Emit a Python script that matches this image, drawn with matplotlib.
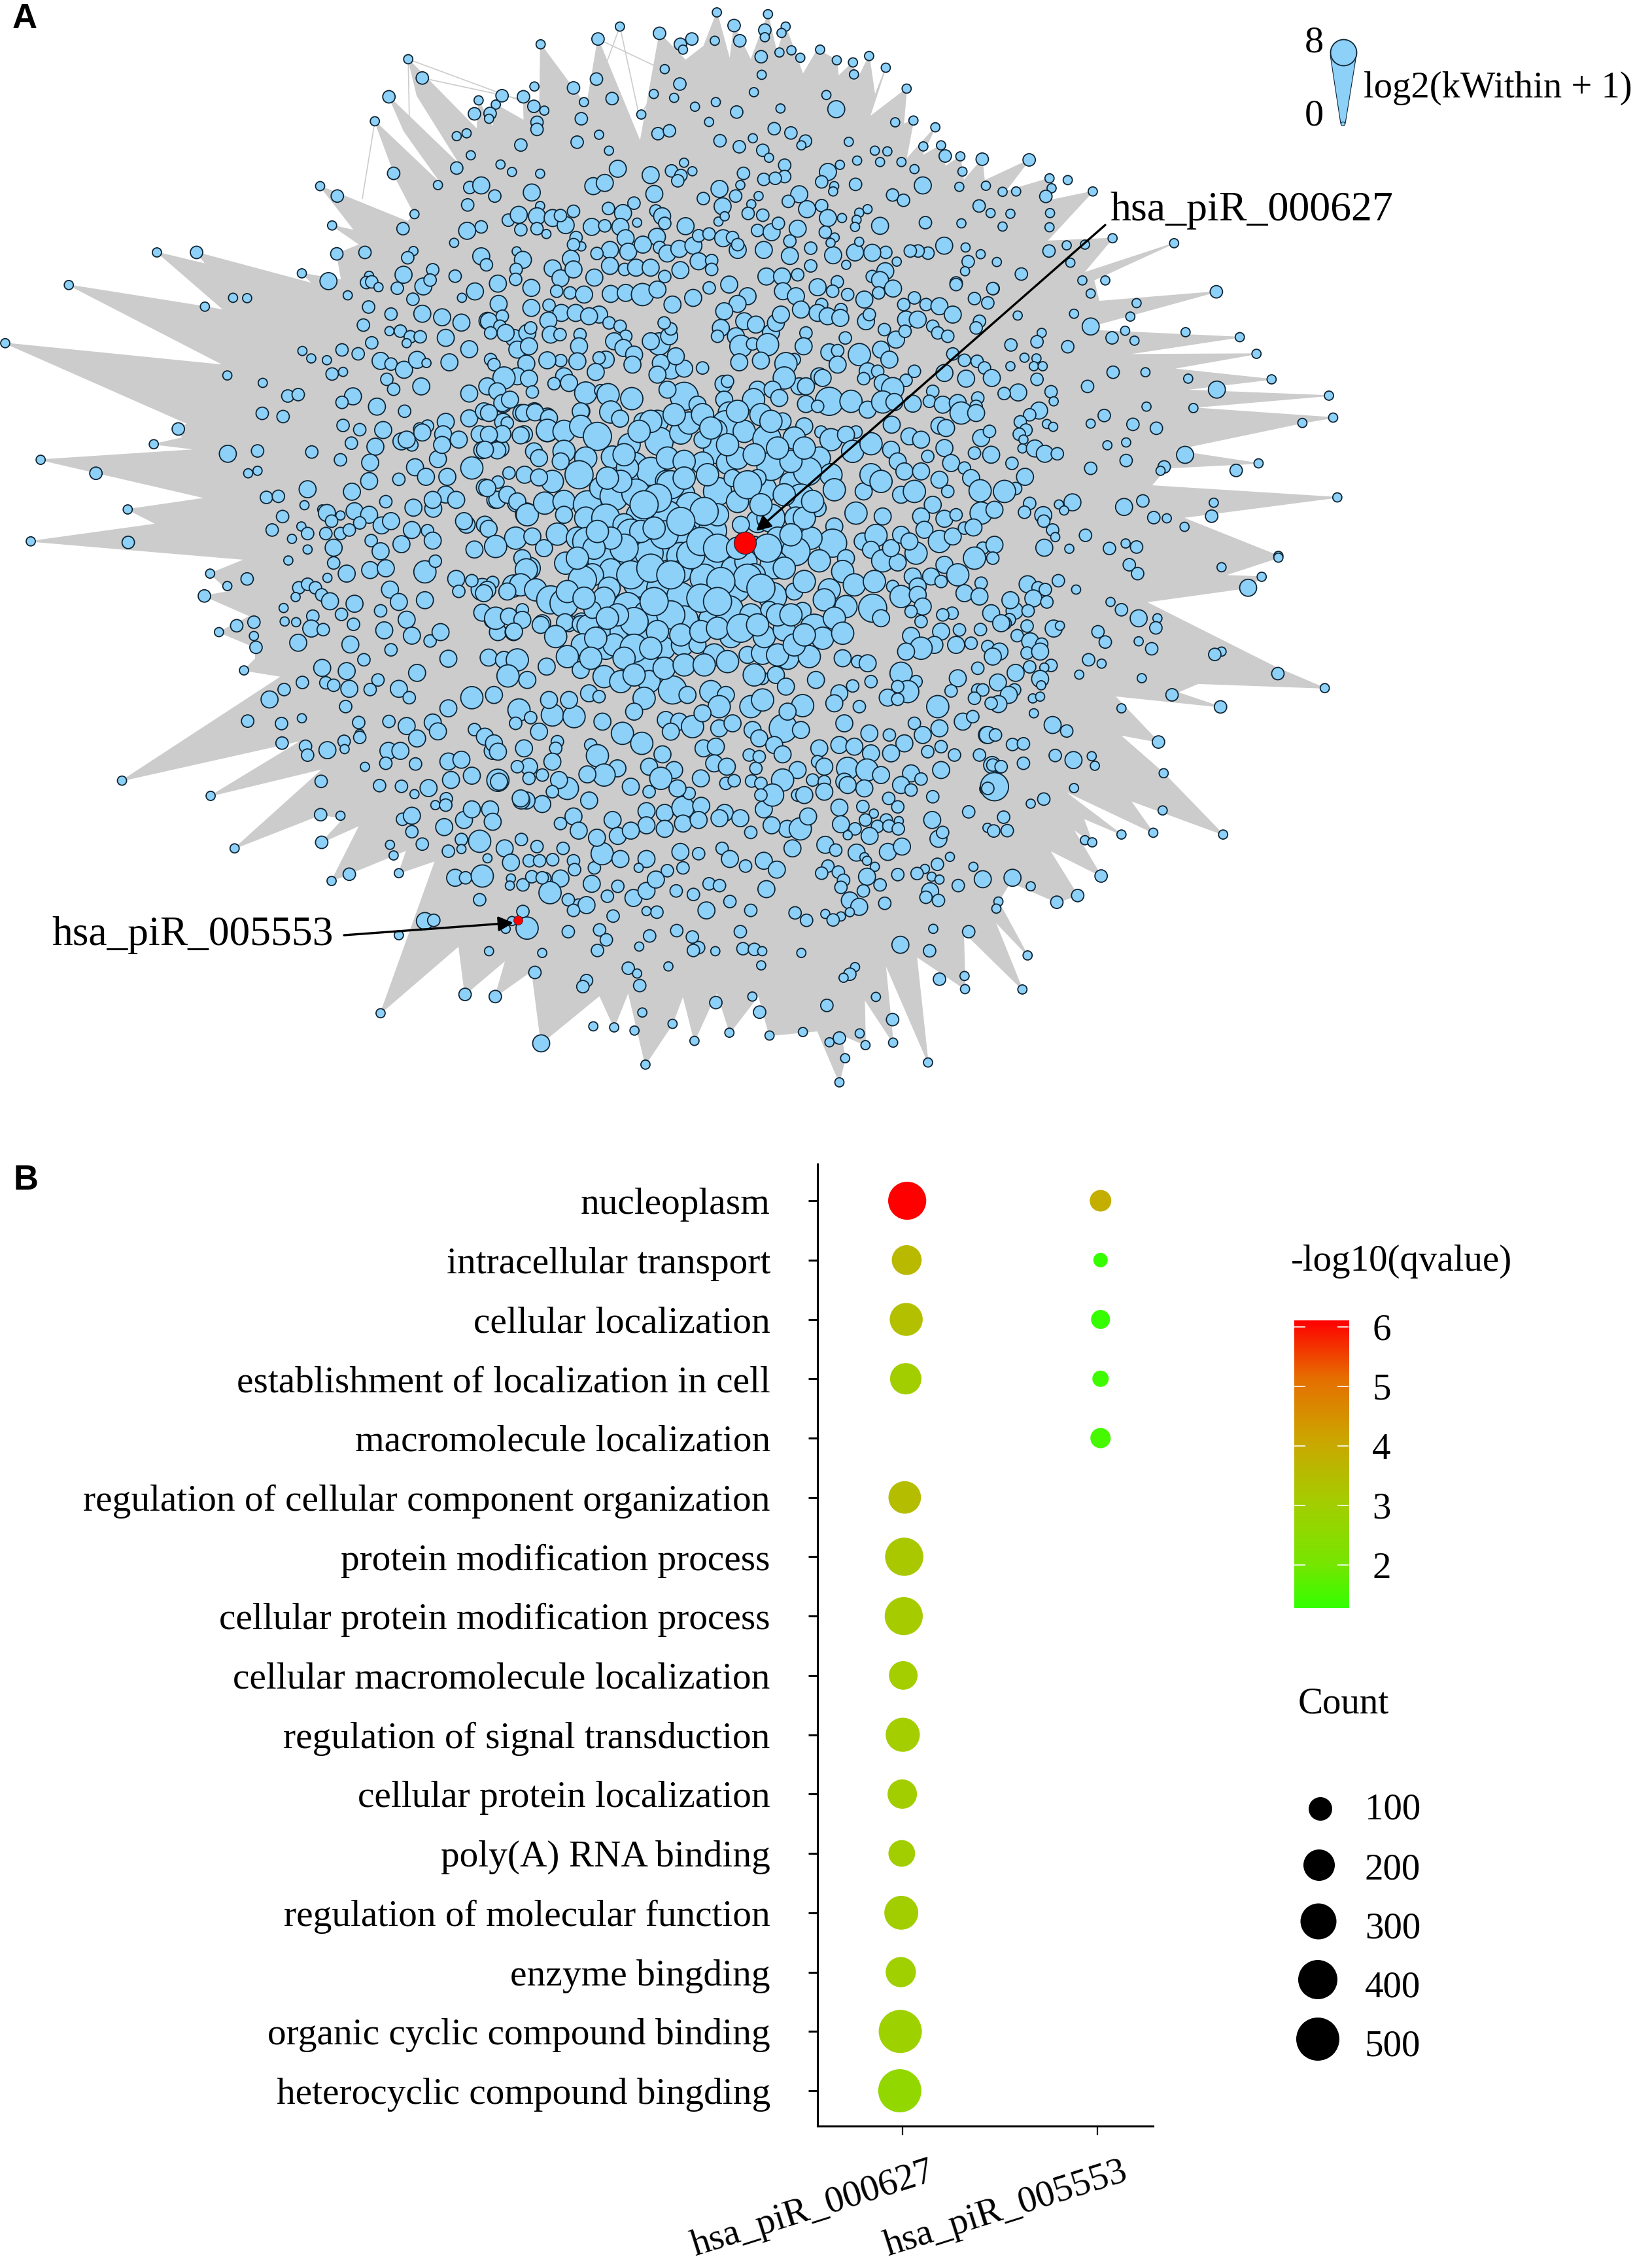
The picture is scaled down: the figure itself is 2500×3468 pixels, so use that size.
import numpy as np
import matplotlib
matplotlib.use("Agg")
import matplotlib.pyplot as plt
from matplotlib.colors import LinearSegmentedColormap
from matplotlib.patches import Polygon

serif = "Liberation Serif"
blue = "#8DD0F8"
grey = "#CCCCCC"
edge = "#0E2433"

# node radius classes, in picture pixels
T, S, M, L, X = 7, 9.5, 13, 17, 21.5

hull_tl = [(59,1527),(300,1478),(245,1437),(395,1405),(78,1297),(380,1268),(295,1253),(350,1235),(342,1210),(360,1195),
           (10,968),(430,1030),(132,804),(393,865),(430,875),(302,712),(395,745),(377,712),(600,800),
           (579,771),(655,790),(646,716),(690,690),(637,636),(680,650),(614,525),(790,630),(773,640),(795,604),(760,505),
           (719,342),(850,525),(775,370),(746,273),(885,470),(800,270),(783,167),(915,365),(918,283),(945,360),(951,295),
           (1005,340),(1004,273),(1035,300),(1037,125),(1125,300),(1147,110),(1228,400),(1240,300),(1265,94),(1315,170),
           (1350,130),(1375,35),(1400,170),(1408,72),(1440,170),(1473,40),(1490,150),(1507,75),(1540,210),(1568,140)]
hull_tr = [(0,140),(37,170),(40,215),(68,176),(75,230),(99,158),(110,270),(131,191),(100,330),(171,250),(165,350),(184,340),
           (170,450),(226,359),(200,440),(237,410),(245,470),(274,441),(280,510),(316,449),(320,510),(406,451),(360,540),
           (445,503),(430,570),(528,540),(440,680),(566,672),(510,770),(684,686),(530,790),(540,850),(765,823),(500,930),
           (810,951),(590,1000),(842,998),(680,1040),(871,1070),(700,1100),(981,1116),(715,1150),(989,1178),(930,1193),
           (680,1270),(846,1307),(670,1320),(640,1370),(997,1403),(700,1460),(884,1568)]
hull_br = [(884,5),(780,55),(852,59),(826,90),(630,130),(880,315),(973,373),(730,360),(690,385),(773,426),(570,395),(654,525),
           (580,505),(664,613),(778,786),(600,690),(644,781),(470,660),(583,786),(510,740),(527,808),(490,770),(544,903),
           (445,830),(499,958),(459,977),(370,920),(347,975),(403,1127),(340,1030),(393,1223),(280,1060),(283,1222),(190,1130),
           (212,1429),(130,1150),(145,1373),(90,1250),(92,1380),(45,1350),(53,1417),(42,1485),(0,1340)]
hull_bl = [(1568,1340),(1476,1353),(1455,1240),(1400,1345),(1375,1230),(1332,1368),(1310,1240),(1290,1320),(1238,1435),
           (1205,1230),(1178,1330),(1150,1240),(1038,1375),(1020,1170),(950,1243),(970,1140),(892,1237),(880,1100),(730,1290),
           (835,860),(765,895),(780,830),(636,917),(690,760),(617,808),(660,740),(615,730),(450,825),(620,600),(404,677),
           (580,520),(234,634),(540,340),(468,323),(490,290),(490,258),(420,215),(480,170),(392,113),(440,100),(403,50),(470,10)]
thin_tl = [((1189,75),(1225,320)),((1189,75),(1150,230)),((783,167),(785,330)),((719,342),(695,560)),((783,167),(1000,285)),
           ((810,220),(1000,280)),((1147,110),(1255,185)),((1230,320),(1310,140))]

# ---- panel A: nodes (x, y, radius class), one list per part of the picture
nodes_center = [(44,68,M),(142,20,M),(218,30,S),(258,35,S),(300,40,M),(380,38,M),(425,35,M),(475,40,L),(520,25,M),(565,70,M),(627,50,M),(675,20,S),(735,10,M),(790,45,M),(760,68,M),(720,90,M),(896,30,M),(935,45,M),(1000,18,M),(1045,30,S),(1012,70,S),(1070,85,S),(1090,40,S),(1140,55,M),(1183,35,S),(1226,22,M),(1290,50,S),(1258,70,S),(1325,70,S),(1365,75,M),(1415,10,S),(1470,52,S),(1525,22,S),(1510,65,S),(1405,100,M),
(142,80,M),(195,72,S),(232,95,M),(275,95,M),(345,100,M),(315,105,M),(15,120,M),(55,105,S),(48,135,S),(90,170,M),(130,155,M),(140,140,S),(20,155,S),(65,155,M),(193,118,M),(200,160,M),(228,160,S),(288,160,S),(285,195,M),(375,125,S),(408,135,S),(425,165,S),(390,180,M),(418,200,M),(450,220,M),(365,235,M),(345,230,S),(280,240,M),(230,238,S),(190,237,M),(100,205,M),(135,195,M),(20,235,S),(30,250,S),(127,247,M),(445,250,M),(525,188,L),(500,180,M),(555,165,M),(560,143,S),(540,125,S),
(710,140,M),(700,165,S),(780,120,M),(815,130,M),(860,155,M),(875,125,M),(755,165,M),(770,195,L),(805,188,S),(850,190,L),(965,155,S),(890,100,M),(950,85,M),(1000,95,M),(1030,105,M),(1068,110,M),(1083,170,S),(1145,120,M),(1155,100,S),(1200,145,S),(1235,175,M),(1190,205,M),(1215,235,M),(1265,115,M),(1300,115,M),(1262,150,S),(1345,135,S),(1360,155,S),(1390,165,S),(1485,120,S),(1475,140,S),(1125,220,L),(958,195,M),(930,235,S),(1035,213,M),(1060,208,S),(1060,250,M),
(765,243,M),(830,238,M),(905,247,L),(655,260,S),(560,260,L),(530,245,M),(600,262,M),(575,225,M),(520,280,M),(100,285,M),(60,290,L),(135,292,M),(240,285,M),(210,307,S),(255,305,M),(335,272,M),(10,315,M),(40,330,M),(145,332,S),(305,335,L),(350,328,S),(372,340,L),(443,352,L),(55,365,M),(78,355,M),(0,390,M),
(1150,270,M),(1180,270,S),(1138,292,S),(1265,297,S),(1290,270,S),(1380,275,M),(1405,218,S),(1440,237,S),(1478,240,S),(1500,260,S),(1522,290,M),(1445,292,M),(1195,305,M),(1225,322,L),(1345,330,S),(1335,360,S),(1375,370,M),(1420,365,M),(1480,350,S),(1430,395,L),(1475,375,S),(1475,395,M),(1005,285,M),(945,315,M),(965,315,M),(900,290,L),(1015,290,M),
(718,308,M),(730,300,S),(820,325,M),(865,325,M),(808,355,L),(885,350,M),(1035,360,X),(965,368,M),(1000,375,S),(1100,360,L),(1150,385,M),(1195,362,L),(1285,367,M),(1230,362,M),(600,345,X),(550,325,M),(640,370,M),(720,355,M),(735,395,L),
(15,395,M),(70,425,S),(120,395,M),(153,393,M),(290,390,M),(380,392,L),(408,412,M),(195,410,M),(190,447,L),(240,450,L),(290,435,L),(340,465,X),(110,462,M),(55,458,M),(15,460,M),(40,507,M),(3,505,M),(150,510,M),(165,530,M),(240,510,L),(230,540,M),(305,530,L),
(475,420,M),(520,420,L),(525,480,X),(435,490,L),(590,455,L),(615,425,L),(655,400,L),(725,430,X),(695,448,L),(780,450,L),(700,505,X),(655,475,M),(655,545,L),(730,545,L),(848,473,X),(895,420,M),(960,435,M),(1010,452,S),(1040,475,L),(1115,452,S),(1085,460,M),(1105,510,L),(1160,487,L),(1222,430,M),(1220,505,M),(1275,465,M),(1310,475,M),(1365,433,M),(1385,440,M),(1380,500,M),(1240,540,M),(1490,470,M),(1515,450,S),(1470,515,S),(1520,520,M),(1330,525,S),(1400,545,M),(1440,560,S),
(385,527,L),(450,555,X),(500,570,X),(547,600,L),(285,580,X),(205,600,L),(122,580,M),(75,575,S),(165,588,M),(42,602,S),(40,655,M),(70,640,M),(10,620,M),(100,660,M),(130,700,L),(182,665,L),(240,660,L),(310,670,X),(350,620,L),(390,645,X),(455,635,X),(590,640,X),(618,675,X),(700,630,X),(835,625,X),(920,605,L),(860,555,X),(1005,530,L),(1040,580,L),(970,570,X),(1050,625,L),(950,650,X),
(820,590,M),(745,590,M),(1138,630,M),(1115,695,L),(1195,705,M),(1160,580,L),(1190,600,L),(1260,570,M),(1310,570,M),(1365,595,M),(1390,630,S),(1250,640,M),(1290,630,L),(1345,670,M),(1310,705,M),(1460,590,M),(1487,628,L),(1560,630,L),(1490,695,L),(1530,685,M),(1380,712,M),(1415,700,S),
(240,700,M),(305,710,L),(365,710,X),(460,700,L),(420,730,L),(550,700,X),(640,730,X),(685,748,X),(600,760,X),(820,720,L),(860,710,X),(935,710,L),(1000,680,M),(1050,735,M),(1045,785,X),(980,770,L),(14,742,M),(95,770,L),(35,795,L),(145,765,M),(220,758,L),(280,770,L),(308,780,X),(440,755,X),(535,805,L),
(770,730,M),(880,770,L),(810,790,M),(935,810,X),(1005,838,L),(1085,830,M),(1135,780,M),(1175,762,L),(1160,805,M),(1195,838,L),(1240,843,M),(1220,800,M),(1250,760,M),(1295,815,L),(1275,780,M),(1320,745,M),(1365,780,L),(1405,765,M),(1440,740,S),(1467,738,M),(1380,850,M),(1495,800,S),(1530,790,M),(1470,830,L),(1525,830,S),
(180,800,M),(115,830,M),(245,845,L),(127,865,L),(350,825,X),(440,840,X),(495,815,X),(590,825,X),(680,840,X),(745,860,L),(785,840,L),(870,850,X),(380,865,L),(325,880,L),(295,895,X),(590,870,L),
(110,910,L),(155,925,L),(10,925,M),(70,930,M),(375,920,L),(200,955,X),(240,965,X),(360,950,L),(460,905,X),(530,920,X),(590,945,X),(660,890,X),(755,920,X),(865,945,X),(930,930,M),(810,880,L),(1075,870,L),(1110,910,L),(1035,925,L),(1020,955,L),(1170,900,L),(1225,915,S),(1250,945,L),(1165,980,X),(1085,975,L),(1190,1010,M),(1285,885,M),(1340,885,M),(1420,880,L),(1300,915,M),(1370,900,S),(1440,935,M),(1490,905,S),(1485,945,M),(1300,940,M),(1315,975,M),(1280,990,S),
(0,935,M),(35,1010,L),(115,985,S),(75,1005,M),(115,1015,M),(170,1030,M),(90,1050,M),(243,1022,M),(290,1028,M),(312,1033,L),(215,1065,L),(295,1090,L),(365,1060,L),(325,985,M),(430,975,X),(490,1000,X),(420,1050,X),(470,1070,X),(600,1015,X),(670,1010,M),(735,985,X),(800,1000,L),(855,985,M),(955,988,M),(990,1040,X),(1050,1010,L),(1015,1070,L),(1075,1055,L),
(1520,995,M),(1403,995,S),(1375,1000,S),(1310,1020,S),(1280,1063,M),(1488,1044,S),(1550,1025,M),(1370,1050,M),(1425,1045,S),(1415,1090,M),(1350,1090,M),(1460,1085,S),(1510,1095,S),(1545,1110,M),(1310,1100,L),(1265,1110,M),(1525,1125,M),
(14,1128,M),(60,1135,M),(100,1135,L),(365,1100,L),(250,1125,L),(290,1165,M),(188,1155,M),(130,1195,M),(72,1183,L),(360,1185,L),(480,1142,X),(540,1100,L),(595,1090,L),(640,1090,M),(690,1120,L),(790,1120,M),(835,1115,L),(840,1065,L),(900,1045,L),(910,1130,L),(740,1065,L),(975,1125,L),(1075,1130,M),(1120,1140,S),(1150,1145,M),
(495,1200,L),(565,1225,X),(610,1240,M),(680,1230,L),(725,1240,M),(835,1190,S),(875,1180,M),(905,1215,M),(995,1195,M),(1160,1200,S),(1105,1213,S),(1065,1235,M),(1250,1175,L),(1295,1200,S),(1420,1190,M),(1480,1160,S),(1270,1230,L),(1240,1215,S),(1210,1248,M),(1240,1253,S),(1400,1228,S),(1480,1225,S),(1495,1225,S),
(315,1235,M),(345,1245,S),(480,1250,L),(205,1300,L),(105,1285,L),(270,1305,L),(140,1308,S),(30,1240,M),(195,1255,M),(255,1255,M),(705,1275,L),(800,1275,L),(835,1255,L),(955,1272,L),(1125,1275,S),(1050,1265,M),(1360,1275,L),(1520,1265,S),(1470,1250,S),
(450,1290,M),(355,1320,M),(415,1355,L),(320,1390,S),(545,1315,M),(585,1320,M),(625,1335,L),(560,1350,M),(655,1295,M),(705,1340,M),(745,1325,M),(805,1345,M),(825,1370,M),(897,1340,X),(950,1345,M),(910,1290,M),(1080,1325,M),(1155,1355,M),(1215,1360,S),(1290,1325,S),(1315,1360,M),(1365,1340,M),(1435,1320,M),(1465,1305,S),(1510,1360,M),(1533,1360,S),(1260,1385,M),
(165,1350,M),(120,1400,M),(30,1385,M),(42,1410,M),(95,1325,S),(220,1380,S),(215,1400,S),(473,1385,L),(535,1418,M),(340,1422,L),(658,1400,M),(695,1395,M),(870,1390,M),(895,1418,M),(795,1420,S),(1005,1400,M),(1065,1390,M),(1110,1395,M),(1160,1415,M),(1220,1415,M),(1330,1410,S),(1370,1395,S),(1410,1420,S),(1485,1420,S),
(135,1455,M),(100,1455,S),(205,1440,M),(175,1480,S),(495,1455,M),(400,1460,M),(360,1480,L),(310,1478,M),(570,1465,M),(690,1445,M),(728,1455,M),(815,1460,S),(825,1425,S),(940,1465,M),(1000,1440,S),(1020,1455,M),(1090,1460,L),(1148,1465,L),(1080,1500,M),(1190,1480,M),(1280,1475,M),(1370,1465,M),(1525,1450,S),(1550,1455,S),
(45,1500,M),(135,1490,S),(250,1520,L),(225,1495,M),(440,1515,M),(530,1490,L),(650,1490,M),(725,1505,S),(750,1497,S),(802,1498,S),(830,1505,S),(895,1495,L),(985,1495,S),(1020,1500,S),(1140,1520,M),(1090,1510,M),(1250,1510,M),(1280,1525,S),(1310,1492,S),(1530,1515,X),(1510,1520,S),
(110,1550,M),(205,1530,S),(495,1530,S),(615,1535,S),(580,1520,M),(865,1540,L),(940,1540,S),(960,1540,M),(830,1540,S),(1020,1530,M),(1213,1550,S),(1345,1545,S),
# dense core
(430,560,L),(560,610,X),(520,650,X),(410,600,L),(480,670,X),(540,760,X),(470,750,L),(420,800,X),(380,770,L),(440,880,X),(500,860,X),(560,880,X),(620,820,X),(650,780,X),(700,700,L),(660,690,X),(590,720,X),(510,740,L),(760,660,L),(790,610,X),(830,670,L),(900,640,L),(960,710,L),(985,660,L),(920,760,L),(850,800,X),(790,890,X),(830,920,X),(710,900,X),(650,950,X),(700,960,X),(560,1000,X),(510,960,X),(450,1020,X),(400,1000,L),(390,1090,L),(450,1100,X),(520,1050,L),(590,1060,L),(650,1050,L),(700,1040,L),(770,1040,X),(820,1030,L),(880,1000,L),(920,1000,L),(960,900,L),(900,860,L),(700,800,X),(760,800,L),(500,1100,L),(420,1130,L),(540,1160,L),(600,1150,L),(660,1150,L),(730,1140,L),(810,1180,L),(880,1120,L),(930,1090,L),(960,1060,L),(330,800,L),(340,750,L),(280,830,L),(250,930,L),(300,950,L),(370,1010,L),(335,1070,L),(320,1130,L),(410,1200,L),(450,1180,L),(370,590,L),(420,520,L),(550,530,L),(600,540,L),(600,590,L),(670,580,L),(760,530,L),(810,520,L),(920,540,L),(730,490,L),(570,400,L),(500,420,L),(465,450,L),(680,440,L),(760,390,L),(830,400,L),(860,420,L),(930,470,L),(960,500,L),(880,500,L)]

nodes_tl = [(783,167,T),(810,220,S),(746,273,S),(719,342,T),(918,283,T),(951,295,T),(963,270,S),(910,321,S),(940,320,S),(938,335,T),(1004,273,S),(1025,244,T),(1037,125,T),(1147,110,S),(1189,75,T),(1100,248,S),(1144,223,S),(1120,288,T),(1174,278,S),(1265,94,S),(1275,195,T),(1305,125,S),(1310,140,T),(1327,110,S),(1375,35,T),(1408,72,S),(1371,115,T),(1419,115,S),(1473,40,T),(1507,75,T),(1467,85,S),(1467,105,T),(1499,93,T),(1495,148,T),(1518,142,T),(1535,163,T),(1460,160,S),(1461,211,T),(1446,260,T),(1497,306,T),(1304,237,S),(1254,265,T),(1293,276,T),(1333,301,T),(1373,288,T),(1413,316,S),(1230,323,T),(1024,300,S),(1044,312,T),(1030,345,S),(1030,365,S),(1115,335,S),(1149,380,T),(1107,401,S),(1262,377,S),(1284,369,S),(1360,344,T),(1381,397,S),(1444,390,T),(1418,414,S),(1485,363,S),(1517,375,S),(1545,398,S),(1537,410,T),(1463,424,S),(1475,445,T),(1168,425,T),(999,409,S),(876,384,T),(895,376,T),(903,438,T),(876,474,S),(960,464,T),(982,485,T),(1036,490,T),(1185,476,M),(1248,494,M),(1312,459,T),(1288,482,S),(1306,495,S),(1328,483,T),(1300,510,S),(1426,489,S),(1505,466,S),(1505,498,S),(1465,506,S),(1487,503,S),(755,489,S),(840,522,T),(614,525,T),(647,553,S),(901,529,S),(923,523,M),(949,553,S),(1138,525,M),(1160,516,M),(1020,543,M),(1255,547,M),(1380,533,M),(1420,522,T),(1455,553,T),(1533,548,M),(1512,568,S),(795,604,T),(637,636,T),(773,645,S),(897,578,S),(1036,581,T),(1100,596,S),(1167,588,S),(1216,573,S),(1195,601,M),(1349,560,S),(1386,582,M),(1411,553,S),(1441,576,T),(1548,590,M),(871,685,T),(700,712,S),(646,716,S),(793,708,T),(782,727,S),(923,640,S),(896,651,M),(975,621,S),(995,606,M),(1030,610,M),
(579,771,T),(630,793,M),(708,778,T),(703,797,S),(713,795,S),(726,810,T),(762,813,S),(774,775,M),(830,761,S),(812,808,M),(825,790,S),(873,779,S),(923,723,M),(933,747,S),(991,709,T),(1003,733,M),(955,800,M),(990,760,S),(989,788,S),(301,712,T),(377,712,S),(132,804,T),(393,865,T),(447,840,T),(474,841,T),(667,833,T),(792,844,S),(707,866,S),(750,886,S),(697,917,S),(886,840,T),(911,822,M),(810,885,M),(848,895,M),
(747,934,T),(768,934,S),(787,950,S),(806,950,S),(780,968,T),(713,967,S),(855,953,M),(900,985,M),(885,910,M),(935,905,M),(10,968,T),(580,990,T),(597,1011,T),(627,1016,T),(656,987,S),(687,998,S),(730,1018,M),(750,1027,S),(775,1043,M),(800,1015,M),(818,1024,T),(862,1022,M),(637,1055,S),(658,1049,T),(436,1059,T),(504,1080,T),(552,1117,S),(572,1113,S),(677,1118,M),(656,1135,S),(742,1070,S),(755,1098,S),(808,1090,M),(723,1147,M),(776,1160,S),(503,1166,S),(543,1175,S),(658,1200,S),(690,1212,S),(342,1210,S),(735,1213,M),(820,1202,S),(805,1210,S),(295,1253,T),(437,1280,M),(494,1272,S),(598,1275,S),(674,1250,S),(720,1260,M),(770,1245,M),(790,1255,S),(653,1297,S),(78,1297,T),(184,1335,S),(476,1335,T),(494,1328,T),(840,1295,M),(710,1305,M),(708,1357,M),(796,1318,M),(817,1345,M),(765,1352,S),(858,1345,M),(245,1437,T),(511,1403,S),(534,1400,S),(590,1380,M),(584,1425,T),(675,1387,M),(740,1415,S),(793,1432,M),(831,1435,M),(542,1457,S),(618,1437,T),(627,1447,M),(653,1454,T),(680,1442,M),(708,1452,M),(732,1482,M),(636,1470,S),(690,1475,S),(750,1470,M),(59,1527,T),(246,1530,S),(522,1495,S),(578,1485,T),(590,1505,S),(625,1505,S),(653,1505,S),(670,1495,S),(560,1520,T),(712,1525,S),(790,1495,M),(820,1497,S),(590,1550,T),(640,1545,M),(730,1555,M),(770,1535,M),(830,1525,M),(895,1480,M),(910,1550,M),
(999,648,S),(1030,645,S),(1048,660,T),(1060,615,M),(1085,635,M),(1105,670,S),(1075,608,S),(1135,640,M),(1160,637,S),(1190,640,M),(1222,628,T),(1258,595,S),(1270,610,M),(1275,630,S),(1315,638,M),(1260,668,M),(1200,672,M),(1170,705,M),(1145,715,S),(1115,695,T),(1100,690,S),(1205,710,M),(1233,690,M),(1265,698,S),(1280,715,M),(1303,702,M),(1330,693,M),(1340,665,S),(1360,660,S),(1387,672,M),(1405,670,S),(1415,705,M),(1415,690,S),(1378,625,T),(1390,610,T),(1435,602,S),(1463,607,S),(1453,650,S),(1480,655,M),(1493,630,S),(1530,645,M),(1465,705,M),(1515,680,S),(1515,722,M),(1555,700,S),(1095,730,M),(1060,757,M),(1075,785,M),(1100,760,M),(1170,750,M),(1140,783,M),(1198,760,S),(1220,755,M),(1248,755,M),(1275,780,S),(1305,762,M),(1340,737,M),(1365,735,S),(1365,760,S),(1470,780,M),(1500,780,M),(1555,750,S),(1530,775,S),
(905,1320,L),(930,1375,M),(950,1410,M),(990,1420,M),(1010,1450,L),(1040,1420,M),(930,1480,M),(890,1470,M),(855,1395,M),(875,1410,M),(830,1410,M),(900,1180,M),(925,1165,S),(965,1140,M),(965,1190,M),(1005,1225,M),(920,1225,M),(925,1270,M),(960,1265,M),(1000,1165,M),(1025,1160,M),(1050,1175,M),(1050,1215,L),(1085,1275,M),(1110,1335,L),(1120,1295,M),(1115,1160,M),(900,1110,M),(855,1190,M),(850,1225,M),(848,1255,M),(810,1220,M),(780,1240,M),(880,1240,M)]

nodes_tr = [(5,140,T),(37,170,T),(68,176,T),(99,158,T),(131,191,T),(70,210,T),(171,250,T),(17,268,T),(36,308,M),(149,345,T),(184,340,T),(226,359,T),(60,400,T),(203,413,T),(237,410,T),(110,425,T),(134,427,T),(245,440,S),(274,441,T),(316,449,S),(406,451,S),(120,457,T),(76,453,T),(43,465,T),(161,457,T),(186,477,T),(278,484,T),(20,485,M),(8,513,S),(32,525,T),(30,540,T),(73,520,S),(202,523,M),(144,550,S),(165,565,S),(272,527,T),(323,524,T),(355,541,T),(381,540,T),(445,503,T),(480,508,T),(449,531,T),(438,554,S),(528,540,T),(310,581,S),(332,601,T),(370,603,T),(446,601,T),(445,641,T),(355,639,T),(276,630,T),(207,628,S),(96,590,T),(80,600,T),(75,620,T),(72,640,T),(47,615,T),(120,637,M),(8,580,S),(20,615,M),(566,672,T),(513,690,T),(478,692,T),(684,686,T),(444,708,S),(485,741,T),(344,739,T),(313,717,T),(284,698,T),(289,738,S),(283,765,T),(243,693,M),(212,714,S),(193,708,S),(178,708,S),(152,738,T),(131,712,S),(105,713,M),(72,712,M),(80,682,T),(55,747,T),(30,720,M),(15,655,S),(33,670,T),(25,685,T),(130,765,M),(105,780,S),(120,790,M),(38,795,S),(391,773,S),(266,798,S),(337,814,S),(145,812,S),(508,791,T),(552,791,T),(524,828,T),
(765,823,S),(612,855,T),(492,885,T),(600,893,T),(384,890,T),(524,921,M),(430,939,T),(706,937,T),(590,933,T),(565,953,S),(608,961,T),(810,951,T),(421,964,S),(371,973,S),(480,978,S),(842,998,T),(397,1009,T),(420,1011,T),(415,1033,T),(432,1033,T),(370,1033,T),(567,1050,S),(629,1050,T),(711,1068,T),(871,1070,T),(421,1070,S),(518,1090,S),(766,1099,M),(448,1105,S),(385,1107,M),(358,1110,S),(453,1132,T),(981,1116,T),(631,1147,T),(721,1151,T),(425,1158,M),(407,1170,S),(389,1190,S),(550,1172,S),(440,1196,T),(452,1204,T),(605,1197,S),(650,1208,S),(524,1195,T),(930,1193,T),(989,1178,T),(400,1213,S),(387,1225,S),(395,1240,T),(592,1248,T),(556,1256,T),(393,1265,T),(417,1265,M),(436,1280,M),(460,1280,S),(705,1283,M),(846,1307,T),(592,1299,S),(524,1321,S),(665,1317,S),(658,1328,T),(803,1327,S),(373,1307,S),(398,1345,M),(380,1378,S),(358,1393,M),(407,1420,S),(397,1445,S),(489,1417,M),(463,1423,T),(473,1440,T),(997,1403,T),(760,1418,T),(624,1413,S),(588,1430,M),(756,1456,S),(645,1460,S),(670,1462,T),(433,1453,M),(434,1470,S),(451,1495,S),(456,1515,T),(704,1486,T),(514,1510,S),(560,1547,S),(591,1533,T),(612,1543,S),(483,1548,T),(435,1545,M),(884,1568,T)]

nodes_br = [(598,25,S),(614,50,S),(775,32,T),(884,5,T),(852,59,T),(826,90,M),(462,70,S),(403,80,M),(423,90,S),(437,95,S),(496,95,T),(414,120,M),(440,130,S),(562,130,T),(583,152,S),(616,176,M),(652,176,T),(649,203,S),(378,155,M),(404,155,S),(370,125,M),(368,180,S),(360,190,S),(402,198,S),(453,205,M),(465,197,T),(538,214,S),(383,225,S),(552,243,S),(616,241,T),(641,262,S),(408,241,M),(430,249,S),(775,270,T),(762,278,S),(402,274,S),(427,270,M),(520,293,S),(545,304,T),(883,332,S),(973,373,T),(407,313,S),(448,309,S),(435,315,T),(380,330,M),(502,335,T),(622,345,T),(427,347,M),(429,365,T),(346,357,M),(378,378,S),(367,392,M),(347,418,M),(680,392,S),(413,402,T),(427,397,T),(583,430,T),(773,426,S),(415,444,T),(451,477,M),(478,494,S),(654,525,S),(374,532,S),(395,530,S),(340,505,S),(325,505,M),(311,561,T),(456,563,S),(491,576,M),(526,565,T),(532,592,T),(395,585,S),(335,590,M),(350,595,S),(664,613,T),(340,652,L),(323,657,S),(492,655,T),(434,686,S),(409,699,T),(662,718,T),(290,722,S),(357,737,S),(326,767,T),(338,776,S),(364,775,S),(583,786,T),(644,781,T),(778,786,T),(513,802,T),(527,808,T),(544,903,S),(254,849,T),(230,870,S),(299,877,T),(232,798,M),(240,780,S),(206,883,T),(191,896,S),(219,905,T),(234,913,T),(154,899,S),(317,912,M),(374,908,M),(270,930,S),(409,932,T),(499,958,S),(459,977,S),(216,946,M),(208,963,S),(232,972,S),(347,975,T),(343,995,T),(129,980,S),(222,1052,T),(290,1060,S),(403,1127,T),(159,1097,M),(215,1114,S),(393,1223,T),(72,1160,T),(62,1180,S),(50,1190,T),(234,1194,S),(282,1185,T),(283,1222,T),(112,1244,T),(18,1268,S),(144,1308,S),(212,1429,T),(81,1347,T),(42,1360,S),(23,1372,T),(92,1380,T),(145,1373,T),(53,1417,T),(42,1485,T),
(15,815,M),(35,830,S),(75,837,M),(90,850,T),(95,860,T),(110,877,T),(135,835,M),(162,820,M),(20,875,S),(8,895,S),(40,892,S),(50,915,S),(95,905,M),(120,928,S),(45,935,S),(88,945,S),(62,972,M),(80,990,M),(15,1010,T),(62,1005,T),(45,1017,T),(30,1027,S),(42,710,M),(87,707,S),(154,708,S),(108,727,T),(92,745,S),(132,745,S),(156,748,T),(45,757,M),(72,770,S),(115,763,S),(58,788,T),(137,762,S),(155,770,S),(100,790,M),(220,745,M)]

nodes_bl = [(403,50,T),(474,65,S),(392,113,S),(436,85,T),(553,13,T),(573,90,S),(590,80,S),(640,20,S),(628,62,T),(665,50,M),(605,90,S),(617,110,S),(633,128,M),(680,135,M),(655,165,S),(544,147,T),(567,116,T),(600,170,S),(546,185,T),(568,187,T),(487,187,S),(454,197,S),(420,215,T),(597,205,M),(620,208,S),(678,193,S),(487,226,T),(491,258,S),(572,245,M),(672,250,M),(737,210,M),(750,265,S),(730,155,S),(780,180,M),(790,225,M),(825,240,S),(845,215,M),(468,323,T),(618,316,M),(665,325,M),(698,293,S),(725,350,S),(765,375,M),(580,357,S),(625,358,S),(640,365,S),(670,375,M),(710,377,S),(545,377,S),(517,405,M),(663,425,S),(785,400,S),(860,430,M),(800,330,M),(860,290,M),(905,400,L),(475,466,S),(540,473,S),(579,458,T),(688,470,S),(746,467,S),(780,480,M),(800,515,M),(830,470,M),(840,495,M),(910,490,S),(930,510,M),(945,550,M),(541,528,S),(586,537,S),(590,562,S),(628,548,M),(660,523,S),(661,545,T),(690,502,T),(690,512,S),(745,550,M),(740,585,S),(768,550,M),(797,587,S),(700,595,T),(860,580,M),(885,575,M),(905,620,M),(955,633,L),(234,634,T),(404,677,T),(616,636,S),(728,648,S),(770,650,S),(795,672,T),(822,655,M),(865,632,M),(856,685,S),(835,703,T),(855,703,S),(615,730,S),(653,733,T),(772,743,S),(790,733,M),(890,745,M),(940,715,M),(905,715,M),(945,750,M),(852,765,M),(790,778,S),(450,825,T),(617,808,S),(755,845,T),(748,815,T),(810,813,S),(885,800,S),(920,805,L),(860,833,S),(885,827,T),(935,853,T),(968,825,M),(980,865,M),(765,895,T),(670,898,S),(636,917,T),(873,908,M),(893,908,S),(925,903,L),(980,910,T),(978,930,T),(1003,928,S),(1020,905,S),(1045,910,S),(1075,910,M),(1055,950,L),(920,970,S),(1003,1003,S),(982,1030,T),(1011,1050,L),(815,1030,M),(832,1028,S),(765,1070,T),(970,1052,T),(938,1115,T),(1090,1060,S),(1150,1055,S),(1163,1083,S),(1176,1016,S),(1110,985,S),(1125,985,M),(1165,960,S),(1215,965,M),(1040,1120,T),(1146,1113,S),(1226,1102,T),(1246,1072,S),(1298,1057,S),(1328,1075,S),(1340,1105,S),(1330,1113,S),(1420,1060,S),(1425,1108,S),(1447,1110,S),(1462,1115,T),(1372,1115,T),(1026,1175,S),(1125,1198,S),(1118,1215,S),(1205,1163,S),(1222,1178,T),(1227,1212,S),(1282,1158,T),(892,1237,S),(950,1243,S),(730,1290,T),(1038,1375,M),(1138,1327,T),(1178,1330,T),(1217,1339,T),(1232,1288,T),(1238,1435,T),(1290,1320,T),(1332,1368,T),(1373,1260,S),(1399,1345,T),(1443,1243,T),(1457,1287,S),(1476,1353,T),(1460,1155,T),(1540,1343,T),(1537,1120,T),(1525,1007,S),(1547,1028,S),
(1000,800,S),(1030,820,S),(1015,860,S),(1035,860,S),(1060,857,S),(1080,825,S),(1100,860,S),(1102,885,S),(1140,880,S),(1155,840,L),(1190,855,M),(1240,855,M),(1225,880,T),(1280,888,S),(1305,835,M),(1340,840,S),(1310,880,S),(1385,825,S),(1400,855,M),(1430,875,S),(1465,860,M),(1490,885,M),(1520,825,M),(1040,908,S),(1135,925,M),(1185,932,S),(1240,945,M),(1258,913,M),(1297,945,S),(1330,955,S),(1360,925,S),(1380,930,S),(1400,975,S),(1470,940,M),(1440,1000,S),(1355,1000,M),(1260,1005,S),(1240,1002,T),(1090,970,S),(1100,1000,S),
(710,40,M),(740,35,M),(748,95,M),(765,130,M),(815,45,L),(815,125,M),(835,15,S),(875,65,M),(925,95,L),(880,100,S),(905,70,S),(945,75,S),(985,85,L),(1015,35,L),(1060,125,L),(1080,130,X),(1130,190,S),(1115,185,M),(1090,190,M),(1040,190,M),(1000,180,S),(945,180,M),(925,160,M),(955,215,M),(985,215,M),(1065,225,M),
(1040,700,M),(1010,690,M),(1100,735,M),(1130,690,M),(1175,745,M),(1240,720,M),(1240,760,M),(1275,725,M),(1310,710,L),(1345,705,M),(1390,725,M),(1420,740,M),(1465,715,M),(1510,770,M),(1535,770,L),(1075,755,S),(1110,775,M),(1145,795,M),(1185,790,M),(1210,775,M),(1275,770,M),(1310,755,M),(1340,745,M),(1380,740,M),(1440,780,S),(1480,760,M),(1550,735,M),(1000,690,M)]

# ---- panel B: dot plot
terms = ["nucleoplasm", "intracellular transport", "cellular localization",
         "establishment of localization in cell", "macromolecule localization",
         "regulation of cellular component organization", "protein modification process",
         "cellular protein modification process", "cellular macromolecule localization",
         "regulation of signal transduction", "cellular protein localization",
         "poly(A) RNA binding", "regulation of molecular function", "enzyme bingding",
         "organic cyclic compound binding", "heterocyclic compound bingding"]
piRNAs = ["hsa_piR_000627", "hsa_piR_005553"]
count_000627 = [365, 180, 235, 200, np.nan, 225, 370, 365, 165, 260, 175, 140, 255, 185, 500, 510]
qval_000627 = [6.1, 3.6, 3.4, 3.0, np.nan, 3.5, 3.2, 3.1, 3.05, 3.05, 3.0, 3.0, 3.0, 2.95, 2.9, 2.65]
count_005553 = [85, 30, 65, 45, 75] + [np.nan] * 11
qval_005553 = [3.9, 1.3, 1.3, 1.4, 1.5] + [np.nan] * 11

legend_counts = [100, 200, 300, 400, 500]
legend_diam = [36, 48, 55, 60, 66]
cbar_ticks = [2, 3, 4, 5, 6]

cmap = LinearSegmentedColormap.from_list("qv", [
    (0.00, "#33FF00"), (0.15, "#76E600"), (0.37, "#A5CD00"), (0.59, "#CDA500"),
    (0.80, "#E66E00"), (1.00, "#FF0000")])
vmin, vmax = 1.275, 6.11


def to_px(points, ox, oy, fx, fy):
    arr = np.array(points, dtype=float)
    arr[:, 0] = ox + arr[:, 0] / fx
    arr[:, 1] = oy + arr[:, 1] / fy
    return arr


# the zoomed crops were read at 1250x850 -> 1568x1568 and 800x800 -> 1568x1568
fx4, fy4 = 1568 / 1250, 1568 / 850
fc = 1568 / 800

fig = plt.figure(figsize=(25, 34.68), dpi=100)
ax = fig.add_axes([0, 0, 1, 1])
ax.set_xlim(0, 2500)
ax.set_ylim(3468, 0)
ax.axis("off")

hull = np.vstack([to_px(hull_tl, 0, 0, fx4, fy4), to_px(hull_tr, 1250, 0, fx4, fy4),
                  to_px(hull_br, 1250, 850, fx4, fy4), to_px(hull_bl, 0, 850, fx4, fy4)])
ax.add_patch(Polygon(hull, closed=True, fc=grey, ec=grey, lw=1, zorder=1))
for a, b in thin_tl:
    p = to_px([a, b], 0, 0, fx4, fy4)
    ax.plot(p[:, 0], p[:, 1], color=grey, lw=1.2, zorder=1)

nodes = np.vstack([to_px(nodes_tl, 0, 0, fx4, fy4), to_px(nodes_tr, 1250, 0, fx4, fy4),
                   to_px(nodes_br, 1250, 850, fx4, fy4), to_px(nodes_bl, 0, 850, fx4, fy4),
                   to_px(nodes_center, 740, 430, fc, fc)])
ax.scatter(nodes[:, 0], nodes[:, 1], s=(2 * nodes[:, 2] * 0.72) ** 2, c=blue, edgecolors=edge, linewidths=1.3, zorder=3)

# highlighted piRNAs
ax.scatter([1138.5], [830], s=(2 * 17 * 0.72) ** 2, c="#FF0000", edgecolors=edge, linewidths=0.8, zorder=4)
ax.scatter([792], [1407], s=(2 * 7 * 0.72) ** 2, c="#FF0000", edgecolors=edge, linewidths=0.5, zorder=4)
ax.annotate("", xy=(1156, 812), xytext=(1690, 344), zorder=5,
            arrowprops=dict(arrowstyle="-|>", color="black", lw=2.4, mutation_scale=34, shrinkA=0, shrinkB=0))
ax.annotate("", xy=(785, 1411), xytext=(526, 1430), zorder=5,
            arrowprops=dict(arrowstyle="-|>", color="black", lw=2.4, mutation_scale=34, shrinkA=0, shrinkB=0))
ax.text(1697, 322, piRNAs[0], family=serif, fontsize=46, va="center", ha="left")
ax.text(79, 1430, piRNAs[1], family=serif, fontsize=45.7, va="center", ha="left")

# size key of the network
ax.add_patch(Polygon([(2034, 84), (2074, 84), (2057, 189), (2050, 189)], closed=True, fc=blue, ec=edge, lw=0.8, zorder=3))
ax.scatter([2054], [80], s=(2 * 20 * 0.72) ** 2, c=blue, edgecolors=edge, linewidths=1.3, zorder=4)
ax.scatter([2053], [189], s=(2 * 3 * 0.72) ** 2, c=blue, edgecolors=edge, linewidths=0.8, zorder=4)
ax.text(2009, 66, "8", family=serif, fontsize=42, ha="center", va="center")
ax.text(2009, 178, "0", family=serif, fontsize=42, ha="center", va="center")
ax.text(2085, 135, "log2(kWithin + 1)", family=serif, fontsize=40.8, ha="left", va="center")

ax.text(19, 43, "A", family="Liberation Sans", weight="bold", fontsize=38, ha="left", va="baseline")
ax.text(21, 1819, "B", family="Liberation Sans", weight="bold", fontsize=38, ha="left", va="baseline")

# legends of panel B
ax.text(1974, 1929, "-log10(qvalue)", family=serif, fontsize=41, ha="left", va="center")
ax.text(1985, 2606, "Count", family=serif, fontsize=41, ha="left", va="center")
legend_x = [2019, 2017, 2016, 2015, 2015]
legend_y = [2766, 2852, 2938, 3027, 3118]
label_y = [2768, 2859, 2949, 3039, 3130]
ax.scatter(legend_x, legend_y, s=(np.array(legend_diam) * 0.72) ** 2, c="black", linewidths=0)
for y, c in zip(label_y, legend_counts):
    ax.text(2172, y, str(c), family=serif, fontsize=41, ha="right", va="center")

# dot plot axes, placed on the picture's pixel grid
left, right, top, bottom = 1250, 1763, 1780, 3251
axb = fig.add_axes([left / 2500, 1 - bottom / 3468, (right - left) / 2500, (bottom - top) / 3468])
axb.patch.set_alpha(0)
axb.set_xlim((left - 1380) / 298, (right - 1380) / 298)
axb.set_ylim(-(3251 - 3197) / 90.73, (3197 - 1780) / 90.73)
rows = np.arange(len(terms))[::-1]
anchors_c = [10] + legend_counts
anchors_d = [18] + legend_diam
# the dots lean a little to the left going down the first column in the picture
drift = [np.linspace(0.024, -0.014, len(terms)), np.full(len(terms), 0.016)]
for i, (cnt, qv) in enumerate([(count_000627, qval_000627), (count_005553, qval_005553)]):
    d = np.interp(np.array(cnt, dtype=float), anchors_c, anchors_d)
    axb.scatter(i + drift[i], rows, s=(d * 0.72) ** 2, c=qv, cmap=cmap, vmin=vmin, vmax=vmax, linewidths=0, zorder=3)
axb.set_yticks(rows)
axb.set_yticklabels(terms, family=serif, fontsize=41.3)
axb.set_xticks([0, 1])
axb.set_xticklabels([])
# tick labels sit past their ticks in the picture, so they are placed by hand
for i, name in enumerate(piRNAs):
    axb.annotate(name, xy=(i, 0), xycoords=("data", "axes fraction"), xytext=(28 if i == 0 else 26, -32),
                 textcoords="offset points", family=serif, fontsize=41, rotation=17.5,
                 ha="right", va="top", rotation_mode="anchor", annotation_clip=False)
axb.tick_params(axis="y", length=10, width=2.2, pad=42)
axb.tick_params(axis="x", length=10, width=1.6)
for side in ["top", "right"]:
    axb.spines[side].set_visible(False)
for side in ["left", "bottom"]:
    axb.spines[side].set_linewidth(2.2)

# colour bar
axc = fig.add_axes([1978.5 / 2500, 1 - 2459 / 3468, 83.5 / 2500, 440.4 / 3468])
axc.imshow(np.linspace(vmax, vmin, 256)[:, None], cmap=cmap, vmin=vmin, vmax=vmax, aspect="auto",
           extent=[0, 1, vmin, vmax])
axc.set_xticks([])
axc.set_yticks(cbar_ticks)
axc.set_yticklabels([str(t) for t in cbar_ticks], family=serif, fontsize=41)
axc.tick_params(axis="y", direction="in", left=True, right=True, labelleft=False, labelright=True,
                color="white", length=12, width=1.2, pad=26)
for s in axc.spines.values():
    s.set_visible(False)

fig.savefig("out.png", dpi=100)
